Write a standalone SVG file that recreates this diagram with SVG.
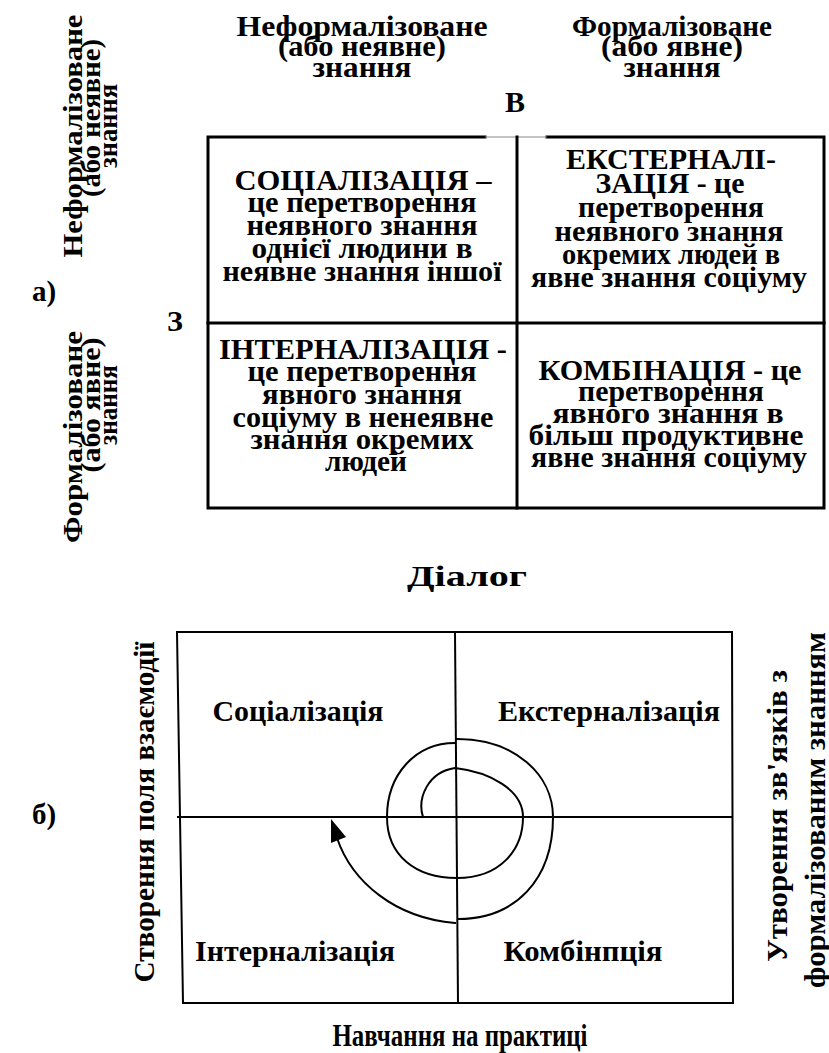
<svg xmlns="http://www.w3.org/2000/svg" width="829" height="1053" viewBox="0 0 829 1053">
<style>
.t{font-family:"Liberation Serif",serif;font-weight:700;fill:#000;text-anchor:middle}
.hd{font-size:30px}
.rh{font-size:28px}
.bd{font-size:30px}
.lb{font-size:29px}
.ln{fill:none;stroke:#000;stroke-linecap:square}
.thick{stroke-width:3}
.thin{stroke-width:2}
</style>
<rect width="829" height="1053" fill="#fff"/>

<!-- Part a -->
<g id="label-a"><text class="t lb" x="44" y="301">а)</text></g>
<g id="col-head-tacit">
<text class="t hd" x="362" y="36" textLength="251" lengthAdjust="spacingAndGlyphs">Неформалізоване</text>
<text class="t hd" x="362" y="56" textLength="168" lengthAdjust="spacingAndGlyphs">(або неявне)</text>
<text class="t hd" x="362" y="77" textLength="99" lengthAdjust="spacingAndGlyphs">знання</text>
</g>
<g id="col-head-explicit">
<text class="t hd" x="672" y="36" textLength="200" lengthAdjust="spacingAndGlyphs">Формалізоване</text>
<text class="t hd" x="672" y="56" textLength="142" lengthAdjust="spacingAndGlyphs">(або явне)</text>
<text class="t hd" x="672" y="77" textLength="97" lengthAdjust="spacingAndGlyphs">знання</text>
</g>
<g id="label-v"><text class="t hd" x="515" y="112">В</text></g>
<g id="label-z"><text class="t hd" x="175" y="331">З</text></g>
<g id="row-head-tacit">
<text class="t rh" transform="translate(82,136) rotate(-90)" x="0" y="0" textLength="243" lengthAdjust="spacingAndGlyphs">Неформалізоване</text>
<text class="t rh" transform="translate(100,118) rotate(-90)" x="0" y="0" textLength="158" lengthAdjust="spacingAndGlyphs">(або неявне)</text>
<text class="t rh" transform="translate(117,126) rotate(-90)" x="0" y="0" textLength="84" lengthAdjust="spacingAndGlyphs">знання</text>
</g>
<g id="row-head-explicit">
<text class="t rh" transform="translate(82,437) rotate(-90)" x="0" y="0" textLength="212" lengthAdjust="spacingAndGlyphs">Формалізоване</text>
<text class="t rh" transform="translate(100,405) rotate(-90)" x="0" y="0" textLength="135" lengthAdjust="spacingAndGlyphs">(або явне)</text>
<text class="t rh" transform="translate(117,405) rotate(-90)" x="0" y="0" textLength="80" lengthAdjust="spacingAndGlyphs">знання</text>
</g>

<g id="matrix-a">
<path class="ln thick" d="M485,137 H208 V508 H824 V137 H547"/>
<line x1="485" y1="137" x2="547" y2="137" stroke="#888" stroke-width="1"/>
<line class="ln thick" x1="517" y1="137" x2="517" y2="508"/>
<line class="ln thick" x1="208" y1="323" x2="824" y2="323"/>
</g>

<g id="cell-socialization">
<text class="t bd" x="363" y="190" textLength="257" lengthAdjust="spacingAndGlyphs">СОЦІАЛІЗАЦІЯ –</text>
<text class="t bd" x="362" y="212" textLength="229" lengthAdjust="spacingAndGlyphs">це перетворення</text>
<text class="t bd" x="362" y="235" textLength="231" lengthAdjust="spacingAndGlyphs">неявного знання</text>
<text class="t bd" x="362" y="258" textLength="221" lengthAdjust="spacingAndGlyphs">однієї людини в</text>
<text class="t bd" x="362" y="281" textLength="279" lengthAdjust="spacingAndGlyphs">неявне знання іншої</text>
</g>
<g id="cell-externalization">
<text class="t bd" x="671" y="169" textLength="210" lengthAdjust="spacingAndGlyphs">ЕКСТЕРНАЛІ-</text>
<text class="t bd" x="670" y="193" textLength="149" lengthAdjust="spacingAndGlyphs">ЗАЦІЯ - це</text>
<text class="t bd" x="671" y="217" textLength="186" lengthAdjust="spacingAndGlyphs">перетворення</text>
<text class="t bd" x="669" y="241" textLength="229" lengthAdjust="spacingAndGlyphs">неявного знання</text>
<text class="t bd" x="671" y="264" textLength="218" lengthAdjust="spacingAndGlyphs">окремих людей в</text>
<text class="t bd" x="669" y="287" textLength="276" lengthAdjust="spacingAndGlyphs">явне знання соціуму</text>
</g>
<g id="cell-internalization">
<text class="t bd" x="363" y="359" textLength="288" lengthAdjust="spacingAndGlyphs">ІНТЕРНАЛІЗАЦІЯ -</text>
<text class="t bd" x="362" y="381" textLength="229" lengthAdjust="spacingAndGlyphs">це перетворення</text>
<text class="t bd" x="362" y="404" textLength="200" lengthAdjust="spacingAndGlyphs">явного знання</text>
<text class="t bd" x="363" y="427" textLength="261" lengthAdjust="spacingAndGlyphs">соціуму в ненеявне</text>
<text class="t bd" x="362" y="449" textLength="223" lengthAdjust="spacingAndGlyphs">знання окремих</text>
<text class="t bd" x="366" y="471" textLength="82" lengthAdjust="spacingAndGlyphs">людей</text>
</g>
<g id="cell-combination">
<text class="t bd" x="670" y="380" textLength="263" lengthAdjust="spacingAndGlyphs">КОМБІНАЦІЯ - це</text>
<text class="t bd" x="671" y="401" textLength="186" lengthAdjust="spacingAndGlyphs">перетворення</text>
<text class="t bd" x="668" y="423" textLength="231" lengthAdjust="spacingAndGlyphs">явного знання  в</text>
<text class="t bd" x="666" y="445" textLength="275" lengthAdjust="spacingAndGlyphs">більш продуктивне</text>
<text class="t bd" x="669" y="467" textLength="276" lengthAdjust="spacingAndGlyphs">явне знання соціуму</text>
</g>

<g id="label-dialog"><text class="t lb" x="467" y="586" textLength="120" lengthAdjust="spacingAndGlyphs">Діалог</text></g>

<!-- Part b -->
<g id="label-b"><text class="t lb" x="44" y="824">б)</text></g>
<g id="matrix-b">
<path class="ln thin" d="M177,632 L732,632 L733,1003 L183,1003 Z" stroke-linejoin="miter"/>
<line class="ln thin" x1="455" y1="632" x2="458" y2="1003"/>
<line class="ln thin" x1="178" y1="817" x2="732" y2="817"/>
</g>
<g id="q-socialization"><text class="t lb" x="298" y="721" textLength="171" lengthAdjust="spacingAndGlyphs">Соціалізація</text></g>
<g id="q-externalization"><text class="t lb" x="609" y="721" textLength="222" lengthAdjust="spacingAndGlyphs">Екстерналізація</text></g>
<g id="q-internalization"><text class="t lb" x="295" y="961" textLength="200" lengthAdjust="spacingAndGlyphs">Інтерналізація</text></g>
<g id="q-combination"><text class="t lb" x="583" y="961" textLength="159" lengthAdjust="spacingAndGlyphs">Комбінпція</text></g>
<g id="side-left"><text class="t lb" transform="translate(154,812) rotate(-90)" x="0" y="0" textLength="341" lengthAdjust="spacingAndGlyphs">Створення поля взаємодії</text></g>
<g id="side-right">
<text class="t lb" transform="translate(787,816) rotate(-90)" x="0" y="0" textLength="292" lengthAdjust="spacingAndGlyphs">Утворення зв'язків з</text>
<text class="t lb" transform="translate(825,810) rotate(-90)" x="0" y="0" textLength="356" lengthAdjust="spacingAndGlyphs">формалізованим знанням</text>
</g>
<g id="label-practice"><text class="t lb" x="460" y="1046" style="font-size:31px" textLength="255" lengthAdjust="spacingAndGlyphs">Навчання на практиці</text></g>

<g id="connectors">
<path class="ln thin" d="M423,817 C417,798 428,772 455,768 C490,772 523,790 523,817 C523,850 500,878 457,878 C415,878 387,855 387,817 C387,775 415,743 455,743"/>
<path class="ln thin" d="M457,739 C515,739 553,775 553,817 C553,880 515,919 458,919"/>
<path class="ln thin" d="M455,923 C395,918 352,882 337,838"/>
<polygon points="331,819 331,843 346,837" fill="#000"/>
</g>
</svg>
